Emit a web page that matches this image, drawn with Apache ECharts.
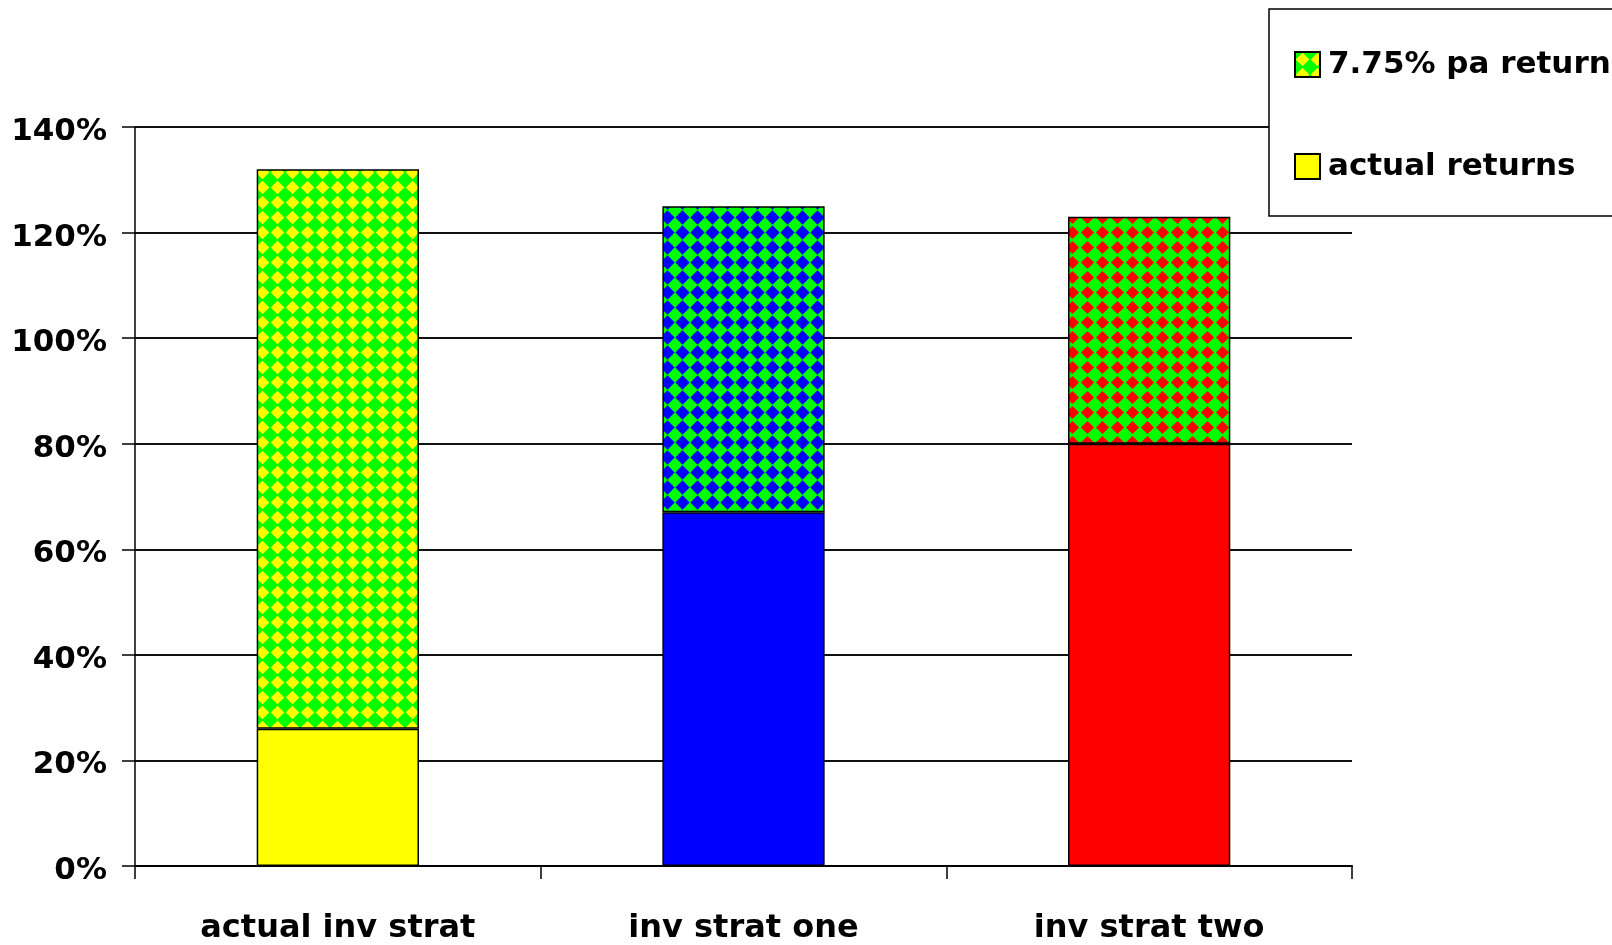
<!DOCTYPE html>
<html>
<head>
<meta charset="utf-8">
<script src="https://cdn.jsdelivr.net/npm/echarts@6/dist/echarts.min.js"></script>
<style>
  html, body { margin: 0; padding: 0; background: #fff; }
  #chart { width: 1612px; height: 945px; }
</style>
</head>
<body>
<div id="chart"></div>
<script>
const categories = ['actual inv strat', 'inv strat one', 'inv strat two'];
const actualReturns = [26, 67, 80];
const paReturn = [106, 58, 43];
const seriesNames = ['actual returns', '7.75% pa return'];
const yMin = 0, yMax = 140, yStep = 20;

function makePattern(bg, fg, size, r) {
  const c = document.createElement('canvas');
  c.width = size; c.height = size;
  const ctx = c.getContext('2d');
  ctx.fillStyle = bg;
  ctx.fillRect(0, 0, size, size);
  ctx.fillStyle = fg;
  ctx.beginPath();
  ctx.moveTo(size / 2, size / 2 - r);
  ctx.lineTo(size / 2 + r, size / 2);
  ctx.lineTo(size / 2, size / 2 + r);
  ctx.lineTo(size / 2 - r, size / 2);
  ctx.closePath();
  ctx.fill();
  return { image: c, repeat: 'repeat' };
}

const solidColors = ['#FFFF00', '#0000FF', '#FF0000'];
const patterns = [
  makePattern('#00FF00', '#FFFF00', 15, 6.8),
  makePattern('#00FF00', '#0000FF', 15, 7.2),
  makePattern('#00FF00', '#FF0000', 15, 6.6)
];

const font = 'DejaVu Sans';
const chart = echarts.init(document.getElementById('chart'));
chart.setOption({
  animation: false,
  backgroundColor: '#fff',
  grid: { left: 135, right: 260, top: 127, bottom: 79 },
  legend: {
    orient: 'vertical',
    left: 1269,
    top: 9,
    padding: [40, 40, 34, 25],
    itemWidth: 25,
    itemHeight: 25,
    itemGap: 71,
    backgroundColor: '#fff',
    borderColor: '#000',
    borderWidth: 1.5,
    icon: 'rect',
    data: [seriesNames[1], seriesNames[0]],
    textStyle: { fontFamily: font, fontWeight: 'bold', fontSize: 31, color: '#000', padding: [0, 0, 0, 3] }
  },
  xAxis: {
    type: 'category',
    data: categories,
    axisLine: { lineStyle: { color: '#000', width: 2 } },
    axisTick: { show: true, length: 13, lineStyle: { color: '#000', width: 1.5 } },
    axisLabel: { margin: 47, fontFamily: font, fontWeight: 'bold', fontSize: 32, color: '#000' }
  },
  yAxis: {
    type: 'value',
    min: yMin, max: yMax, interval: yStep,
    axisLine: { show: true, lineStyle: { color: '#000', width: 1.5 } },
    axisTick: { show: true, length: 13, lineStyle: { color: '#000', width: 1.5 } },
    axisLabel: {
      margin: 28,
      formatter: v => '{a|' + v + '%}',
      rich: { a: { fontFamily: font, fontWeight: 'bold', fontSize: 31, color: '#000', padding: [10, 0, 0, 0] } }
    },
    splitLine: { show: true, lineStyle: { color: '#111', width: 2 } }
  },
  series: [
    {
      name: seriesNames[0],
      type: 'bar',
      stack: 'total',
      barWidth: '40%',
      itemStyle: { color: solidColors[0], borderColor: '#000', borderWidth: 1.5 },
      data: actualReturns.map((v, i) => ({ value: v, itemStyle: { color: solidColors[i] } }))
    },
    {
      name: seriesNames[1],
      type: 'bar',
      stack: 'total',
      barWidth: '40%',
      itemStyle: { color: patterns[0], borderColor: '#000', borderWidth: 1.5 },
      data: paReturn.map((v, i) => ({ value: v, itemStyle: { color: patterns[i] } }))
    }
  ]
});
</script>
</body>
</html>
